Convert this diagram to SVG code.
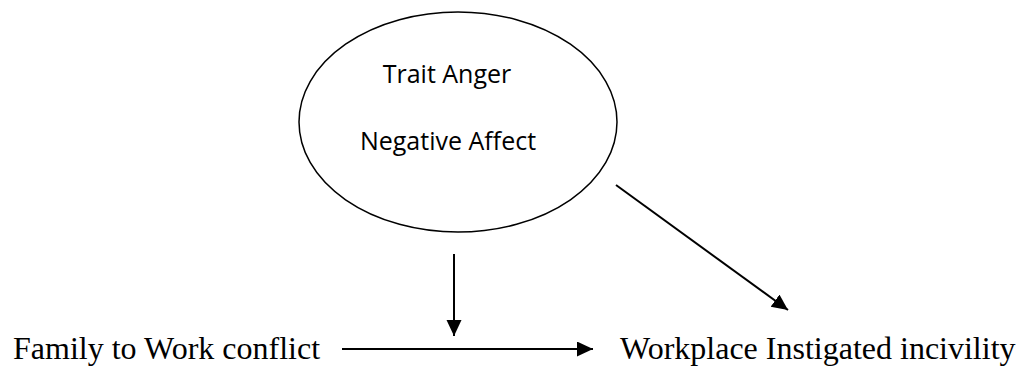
<svg xmlns="http://www.w3.org/2000/svg" width="1018" height="366" viewBox="0 0 1018 366">
<style>
.sans{font-family:"Open Sans","Liberation Sans",sans-serif;font-size:25px;fill:#000;text-anchor:middle}
.serif{font-family:"Liberation Serif","Times New Roman",serif;font-size:32px;fill:#000}
.conn{stroke:#000;stroke-width:2;fill:none}
</style>
<defs>
<marker id="ah" markerUnits="userSpaceOnUse" markerWidth="18" markerHeight="16" refX="16" refY="7.5" orient="auto">
<path d="M0,0 L16,7.5 L0,15 Z" fill="#000"/>
</marker>
</defs>
<rect width="1018" height="366" fill="#fff"/>
<g id="trait">
<ellipse cx="458" cy="122" rx="159" ry="110" fill="none" stroke="#000" stroke-width="1.5"/>
<text class="sans" x="447" y="83">Trait Anger</text>
<text class="sans" x="448" y="150">Negative Affect</text>
</g>
<g id="fwc">
<text class="serif" x="13" y="359">Family to Work conflict</text>
</g>
<g id="wii">
<text class="serif" x="620" y="359">Workplace Instigated incivility</text>
</g>
<g id="connectors">
<line class="conn" x1="342" y1="349" x2="593" y2="349" marker-end="url(#ah)"/>
<line class="conn" x1="454" y1="254" x2="454" y2="336" marker-end="url(#ah)"/>
<line class="conn" x1="616" y1="185" x2="788" y2="310" stroke-width="1.5" marker-end="url(#ah)"/>
</g>
</svg>
